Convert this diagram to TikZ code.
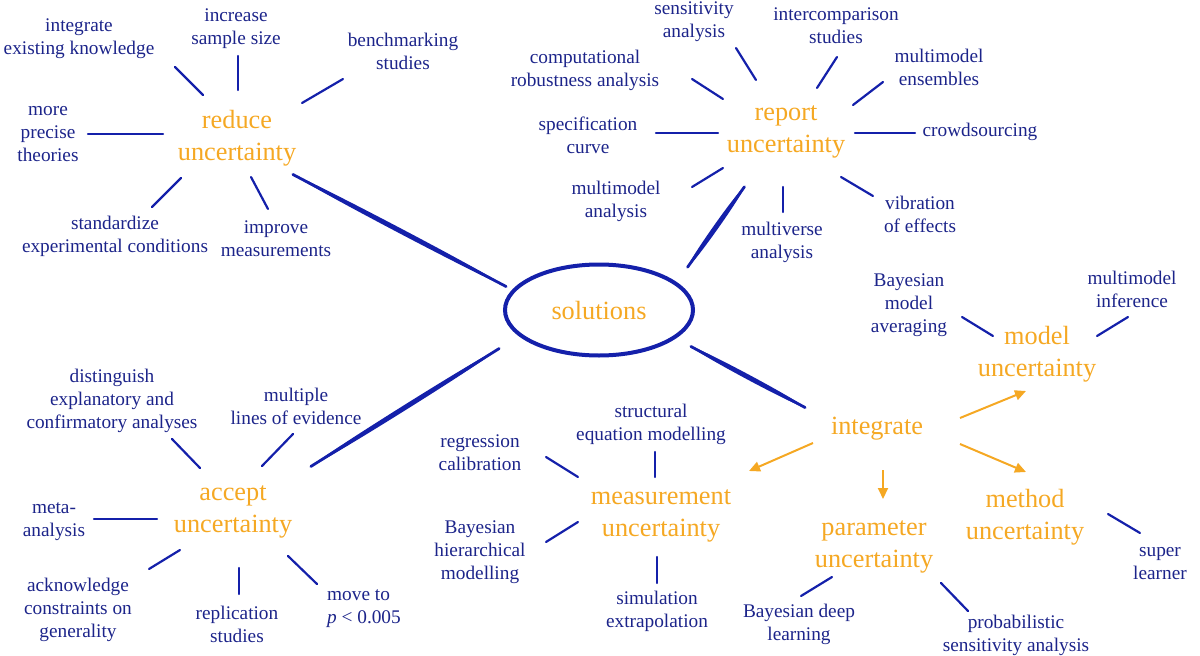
\documentclass[tikz,border=0pt]{standalone}
\usepackage{fontspec}
\setmainfont{Liberation Serif}
\usetikzlibrary{calc,shapes.geometric,arrows.meta}
\definecolor{txtblue}{RGB}{28,36,138}
\definecolor{lineblue}{RGB}{20,32,170}
\definecolor{orng}{RGB}{245,168,35}
\newcommand\lensline[2]{\fill[lineblue] (#1) .. controls ($(#1)!0.1!(#2)!3.3pt!90:(#2)$) and ($(#1)!0.9!(#2)!3.3pt!90:(#2)$) .. (#2) .. controls ($(#2)!0.1!(#1)!3.3pt!90:(#1)$) and ($(#2)!0.9!(#1)!3.3pt!90:(#1)$) .. (#1) -- cycle;
  \draw[lineblue,line width=2.8pt,line cap=round,shorten <=1pt,shorten >=1pt] (#1) -- (#2);}
\begin{document}
\begin{tikzpicture}[x=1pt,y=-1pt,
  leaf/.style={text=txtblue,font=\fontsize{19.3}{23}\selectfont,align=center,inner sep=0pt},
  hub/.style={text=orng,font=\fontsize{26.3}{31.8}\selectfont,align=center,inner sep=0pt},
  spoke/.style={draw=lineblue,line width=2.2pt,line cap=round},
  oarrow/.style={draw=orng,line width=2pt,-{Triangle[length=11pt,width=10pt]}}]
\useasboundingbox (0,0) rectangle (1200,656);

% ---------- hubs ----------
\node[hub] (red) at (237,138) {reduce\\uncertainty};
\node[hub] (rep) at (786,132) {report\\uncertainty};
\node[hub] (acc) at (233,512) {accept\\uncertainty};
\node[hub] (intg) at (877,429) {integrate};
\node[hub] (mea) at (661,516) {measurement\\uncertainty};
\node[hub] (par) at (874,547) {parameter\\uncertainty};
\node[hub] (mod) at (1037,354) {model\\uncertainty};
\node[hub] (met) at (1025,517) {method\\uncertainty};
\node[hub,ellipse,draw=lineblue,line width=4pt,minimum width=188pt,minimum height=91pt,text depth=0pt] (sol) at (599,310) {solutions};

% ---------- reduce leaves ----------
\node[leaf] (r1) at (79,39) {integrate\\existing knowledge};
\node[leaf] (r2) at (236,29) {increase\\sample size};
\node[leaf] (r3) at (403,51) {benchmarking\\studies};
\node[leaf] (r4) at (48,134) {more\\precise\\theories};
\node[leaf] (r5) at (115,236) {standardize\\experimental conditions};
\node[leaf] (r6) at (276,239) {improve\\measurements};

% ---------- report leaves ----------
\node[leaf] (p1) at (694,22) {sensitivity\\analysis};
\node[leaf] (p2) at (836,26) {intercomparison\\studies};
\node[leaf] (p3) at (585,70) {computational\\robustness analysis};
\node[leaf] (p4) at (939,67) {multimodel\\ensembles};
\node[leaf] (p5) at (588,135) {specification\\curve};
\node[leaf] (p6) at (980,132) {crowdsourcing};
\node[leaf] (p7) at (616,201) {multimodel\\analysis};
\node[leaf] (p8) at (920,214) {vibration\\of effects};
\node[leaf] (p9) at (782,242) {multiverse\\analysis};

% ---------- accept leaves ----------
\node[leaf] (a1) at (112,401) {distinguish\\explanatory and\\confirmatory analyses};
\node[leaf] (a2) at (296,406) {multiple\\lines of evidence};
\node[leaf] (a3) at (54,522) {meta-\\analysis};
\node[leaf] (a4) at (78,610) {acknowledge\\constraints on\\generality};
\node[leaf] (a5) at (237,624) {replication\\studies};
\node[leaf,align=left,anchor=west] (a6) at (327,609) {move to\\\textit{p} < 0.005};

% ---------- measurement leaves ----------
\node[leaf] (m1) at (651,424) {structural\\equation modelling};
\node[leaf] (m2) at (480,453) {regression\\calibration};
\node[leaf] (m3) at (480,552) {Bayesian\\hierarchical\\modelling};
\node[leaf] (m4) at (657,611) {simulation\\extrapolation};

% ---------- parameter / model / method leaves ----------
\node[leaf] (q1) at (799,624) {Bayesian deep\\learning};
\node[leaf] (q2) at (1016,635) {probabilistic\\sensitivity analysis};
\node[leaf] (o1) at (909,305) {Bayesian\\model\\averaging};
\node[leaf] (o2) at (1132,289) {multimodel\\inference};
\node[leaf] (t1) at (1160,564) {super\\learner};

% ---------- spoke end points ----------
\path (175,67) coordinate (r1s) (203,95) coordinate (r1e)
      (238,56) coordinate (r2s) (238,90) coordinate (r2e)
      (343,79) coordinate (r3s) (302,103) coordinate (r3e)
      (88,134) coordinate (r4s) (163,134) coordinate (r4e)
      (181,178) coordinate (r5s) (152,207) coordinate (r5e)
      (251,177) coordinate (r6s) (268,209) coordinate (r6e);
\path (736,48) coordinate (p1s) (756,80) coordinate (p1e)
      (837,57) coordinate (p2s) (817,88) coordinate (p2e)
      (692,79) coordinate (p3s) (723,99) coordinate (p3e)
      (883,82) coordinate (p4s) (853,105) coordinate (p4e)
      (656,133) coordinate (p5s) (718,133) coordinate (p5e)
      (855,133) coordinate (p6s) (915,133) coordinate (p6e)
      (723,168) coordinate (p7s) (692,187) coordinate (p7e)
      (841,177) coordinate (p8s) (873,196) coordinate (p8e)
      (783,187) coordinate (p9s) (783,212) coordinate (p9e);
\path (172,439) coordinate (a1s) (200,468) coordinate (a1e)
      (293,434) coordinate (a2s) (262,466) coordinate (a2e)
      (94,519) coordinate (a3s) (157,519) coordinate (a3e)
      (180,550) coordinate (a4s) (149,569) coordinate (a4e)
      (239,568) coordinate (a5s) (239,594) coordinate (a5e)
      (288,556) coordinate (a6s) (317,584) coordinate (a6e);
\path (655,452) coordinate (m1s) (655,477) coordinate (m1e)
      (546,457) coordinate (m2s) (578,477) coordinate (m2e)
      (546,542) coordinate (m3s) (578,522) coordinate (m3e)
      (657,557) coordinate (m4s) (657,583) coordinate (m4e);
\path (832,577) coordinate (q1s) (801,596) coordinate (q1e)
      (941,583) coordinate (q2s) (968,611) coordinate (q2e)
      (962,317) coordinate (o1s) (993,336) coordinate (o1e)
      (1128,317) coordinate (o2s) (1097,336) coordinate (o2e)
      (1108,514) coordinate (t1s) (1140,533) coordinate (t1e);

\foreach \s in {r1,r2,r3,r4,r5,r6,p1,p2,p3,p4,p5,p6,p7,p8,p9,a1,a2,a3,a4,a5,a6,m1,m2,m3,m4,q1,q2,o1,o2,t1}
  \draw[spoke] (\s s) -- (\s e);

% ---------- main branches ----------
\path (292,174) coordinate (bRs) (507,287) coordinate (bRe)
      (745,186) coordinate (bPs) (687,268) coordinate (bPe)
      (310,467) coordinate (bAs) (500,348) coordinate (bAe)
      (690,346) coordinate (bIs) (806,408) coordinate (bIe);
\lensline{bRs}{bRe}
\lensline{bPs}{bPe}
\lensline{bAs}{bAe}
\lensline{bIs}{bIe}

% ---------- orange arrows ----------
\path (960,418) coordinate (g1s) (1026,391) coordinate (g1e)
      (960,444) coordinate (g2s) (1026,472) coordinate (g2e)
      (883,470) coordinate (g3s) (883,499) coordinate (g3e)
      (813,443) coordinate (g4s) (749,471) coordinate (g4e);
\draw[oarrow] (g1s) -- (g1e);
\draw[oarrow] (g2s) -- (g2e);
\draw[oarrow] (g3s) -- (g3e);
\draw[oarrow] (g4s) -- (g4e);
\end{tikzpicture}
\end{document}
